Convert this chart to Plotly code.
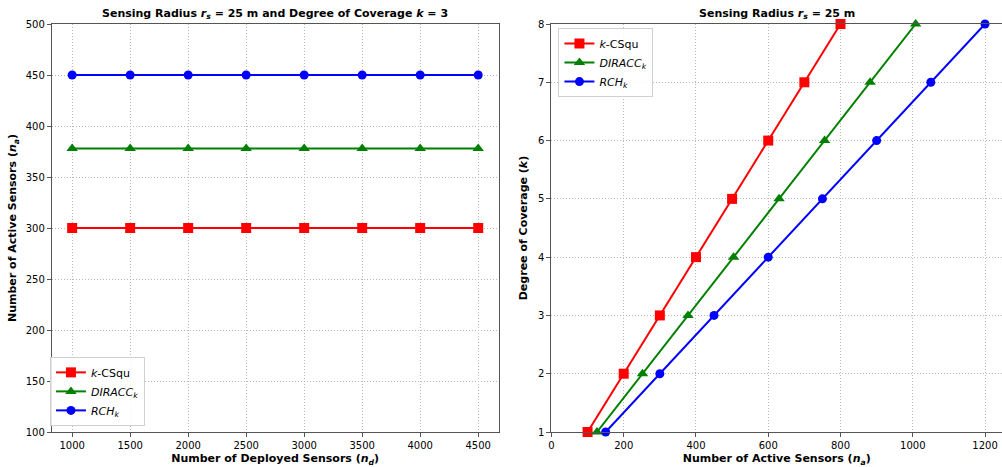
import plotly.graph_objects as go

# Left panel: active sensors vs deployed sensors (k = 3)
deployed = [1000, 1500, 2000, 2500, 3000, 3500, 4000, 4500]
active_kcsqu = [300, 300, 300, 300, 300, 300, 300, 300]
active_diracc = [378, 378, 378, 378, 378, 378, 378, 378]
active_rch = [450, 450, 450, 450, 450, 450, 450, 450]

# Right panel: degree of coverage vs active sensors
coverage = [1, 2, 3, 4, 5, 6, 7, 8]
na_kcsqu = [100, 200, 300, 400, 500, 600, 700, 800]
na_diracc = [126, 252, 378, 504, 630, 756, 882, 1008]
na_rch = [150, 300, 450, 600, 750, 900, 1050, 1200]

names = ["<i>k</i>-CSqu", "<i>DIRACC<sub>k</sub></i>", "<i>RCH<sub>k</sub></i>"]
colors = ["#ff0000", "#008000", "#0000ff"]
symbols = ["square", "triangle-up", "circle"]
msizes = [10, 10, 9]

FONT = "DejaVu Sans"
fig = go.Figure()

left_y = [active_kcsqu, active_diracc, active_rch]
for i in range(3):
    fig.add_trace(go.Scatter(
        x=deployed, y=left_y[i], mode="lines+markers", name=names[i],
        line=dict(color=colors[i], width=2),
        marker=dict(symbol=symbols[i], size=msizes[i], color=colors[i]),
        xaxis="x", yaxis="y", legend="legend"))

right_x = [na_kcsqu, na_diracc, na_rch]
for i in range(3):
    fig.add_trace(go.Scatter(
        x=right_x[i], y=coverage, mode="lines+markers", name=names[i],
        line=dict(color=colors[i], width=2),
        marker=dict(symbol=symbols[i], size=msizes[i], color=colors[i]),
        xaxis="x2", yaxis="y2", legend="legend2", cliponaxis=False))

axis_common = dict(
    showgrid=True, gridcolor="#b8b8b8", gridwidth=0.8, griddash="1px,2px",
    zeroline=False, showline=True, linecolor="#555555", linewidth=1,
    ticks="outside", ticklen=4, tickcolor="#555555",
    tickfont=dict(family=FONT, size=10, color="#000000"),
)
title_font = dict(family=FONT, size=11, color="#000000")

fig.update_layout(
    width=1002, height=467,
    margin=dict(l=0, r=0, t=24, b=35),
    plot_bgcolor="white", paper_bgcolor="white",
    font=dict(family=FONT, size=10, color="#000000"),
    xaxis=dict(axis_common, domain=[0.0489, 0.496], range=[825, 4675],
               tickvals=deployed, mirror=True, anchor="y",
               title=dict(text="<b>Number of Deployed Sensors (<i>n<sub>d</sub></i>)</b>",
                          font=title_font, standoff=4)),
    yaxis=dict(axis_common, domain=[0, 1], range=[100, 500], dtick=50, mirror=True,
               anchor="x",
               title=dict(text="<b>Number of Active Sensors (<i>n<sub>a</sub></i>)</b>",
                          font=title_font, standoff=6)),
    xaxis2=dict(axis_common, domain=[0.549, 1.0], range=[0, 1247], dtick=200,
                mirror=True, anchor="y2",
                title=dict(text="<b>Number of Active Sensors (<i>n<sub>a</sub></i>)</b>",
                           font=title_font, standoff=4)),
    yaxis2=dict(axis_common, domain=[0, 1], range=[1, 8], dtick=1, anchor="x2",
                title=dict(text="<b>Degree of Coverage (<i>k</i>)</b>",
                           font=title_font, standoff=8)),
    legend=dict(x=0.047, y=0.015, xanchor="left", yanchor="bottom",
                bgcolor="rgba(255,255,255,0.85)", bordercolor="#d0d0d0", borderwidth=1,
                font=dict(family=FONT, size=11), tracegroupgap=0, itemwidth=30),
    legend2=dict(x=0.556, y=0.99, xanchor="left", yanchor="top",
                 bgcolor="rgba(255,255,255,0.85)", bordercolor="#d0d0d0", borderwidth=1,
                 font=dict(family=FONT, size=11), tracegroupgap=0, itemwidth=30),
    annotations=[
        dict(text="<b>Sensing Radius <i>r<sub>s</sub></i> = 25 m and Degree of Coverage <i>k</i> = 3</b>",
             x=0.2725, y=1.0, xref="paper", yref="paper", xanchor="center", yanchor="bottom",
             yshift=1, showarrow=False, font=dict(family=FONT, size=11)),
        dict(text="<b>Sensing Radius <i>r<sub>s</sub></i> = 25 m</b>",
             x=0.7745, y=1.0, xref="paper", yref="paper", xanchor="center", yanchor="bottom",
             yshift=1, showarrow=False, font=dict(family=FONT, size=11)),
    ],
)

fig.write_html("out.html")
